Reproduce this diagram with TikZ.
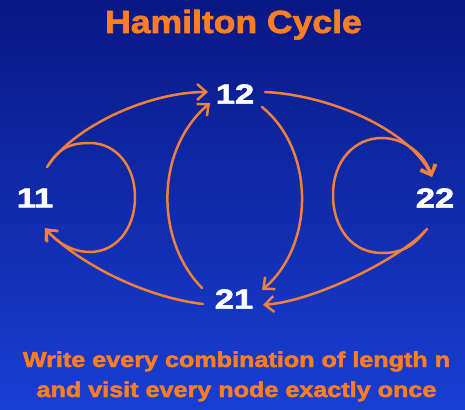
\documentclass[tikz,border=0pt]{standalone}
\usepackage{fontspec}
\setmainfont{Liberation Sans}
\newfontfamily\heavy[FakeBold=2]{Liberation Sans Bold}
\usetikzlibrary{arrows.meta}
\definecolor{bgtop}{RGB}{8,24,132}
\definecolor{bgbot}{RGB}{24,62,210}
\definecolor{arr}{RGB}{240,128,60}
\definecolor{txt}{RGB}{252,126,36}
\tikzset{
  vert/.style={text=white, inner sep=0pt, font=\heavy\fontsize{27.5}{27.5}\selectfont},
  edge/.style={draw=arr, line width=2.5pt, line cap=round,
    -{Straight Barb[length=9pt,width=16pt,line width=2.5pt]}},
  orangetext/.style={text=txt, inner sep=0pt, anchor=base},
}
\begin{document}
\begin{tikzpicture}[x=1pt,y=-1pt]
\shade[top color=bgtop, bottom color=bgbot] (0,0) rectangle (465,409);
\useasboundingbox (0,0) rectangle (465,409);
\node[orangetext, font=\heavy\fontsize{32}{32}\selectfont] (title) at (233.5,33) {\scalebox{1.11}[1]{Hamilton Cycle}};
\node[vert] (n12) at (235,94) {\scalebox{1.25}[1]{12}};
\node[vert] (n11) at (35,198) {\scalebox{1.25}[1]{11}};
\node[vert] (n22) at (435,198) {\scalebox{1.25}[1]{22}};
\node[vert] (n21) at (234,299) {\scalebox{1.25}[1]{21}};
\node[orangetext, font=\heavy\fontsize{21.5}{21.5}\selectfont] (line1) at (236.5,367) {\scalebox{1.17}[1]{Write every combination of length n}};
\node[orangetext, font=\heavy\fontsize{21.5}{21.5}\selectfont] (line2) at (236.5,397) {\scalebox{1.17}[1]{and visit every node exactly once}};
% 11 -> 12
\draw[edge] ([shift={(12,-31)}]n11.center) .. controls (75,125) and (150,92) .. ([shift={(-27,-2)}]n12.center);
% loop at 11
\draw[edge] ([shift={(13,-32)}]n11.center) .. controls (60,145) and (75,143) .. (90,143)
  .. controls (115,143) and (135,165) .. (135,197)
  .. controls (135,230) and (115,252) .. (90,252)
  .. controls (70,252) and (55,240) .. ([shift={(10,30)}]n11.center);
% 21 -> 11
\draw[edge] ([shift={(-31,5)}]n21.center) .. controls (150,298) and (85,268) .. ([shift={(10,31)}]n11.center);
% 21 -> 12
\draw[edge] ([shift={(-32,-11)}]n21.center) .. controls (155,240) and (155,150) .. ([shift={(-25,9)}]n12.center);
% 12 -> 22
\draw[edge] ([shift={(30,-2)}]n12.center) .. controls (330,95) and (410,130) .. ([shift={(-3,-21)}]n22.center);
% 12 -> 21
\draw[edge] ([shift={(27,13)}]n12.center) .. controls (315,150) and (315,245) .. ([shift={(28,-9)}]n21.center);
% loop at 22
\draw[edge] ([shift={(-10,33)}]n22.center) .. controls (412,248) and (400,253) .. (382,253)
  .. controls (352,253) and (333,228) .. (333,195)
  .. controls (333,160) and (355,138) .. (382,138)
  .. controls (405,138) and (425,155) .. ([shift={(-3,-21)}]n22.center);
% 22 -> 21
\draw[edge] ([shift={(-8,31)}]n22.center) .. controls (405,255) and (320,300) .. ([shift={(29,6)}]n21.center);
\end{tikzpicture}
\end{document}
